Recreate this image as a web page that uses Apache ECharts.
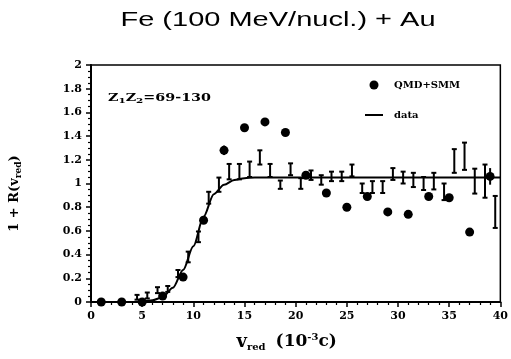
<!DOCTYPE html>
<html>
<head>
<meta charset="utf-8">
<script src="https://cdn.jsdelivr.net/npm/echarts@6/dist/echarts.min.js"></script>
<style>
html, body { margin: 0; padding: 0; background: #fff; }
#main { width: 511px; height: 359px; }
</style>
</head>
<body>
<div id="main"></div>
<script>
// QMD+SMM points (filled circles)
var qmdX = [1, 3, 5, 7, 9, 11, 13, 15, 17, 19, 21, 23, 25, 27, 29, 31, 33, 35, 37, 39];
var qmdY = [0, 0, 0, 0.05, 0.21, 0.69, 1.28, 1.47, 1.52, 1.43, 1.07, 0.92, 0.80, 0.89, 0.76, 0.74, 0.89, 0.88, 0.59, 1.06];
var qmdErr = [0, 0, 0, 0, 0, 0, 0.04, 0, 0, 0, 0, 0, 0, 0, 0, 0, 0, 0, 0.03, 0.07];

// measured points with error bars
var dataX = [4.5, 5.5, 6.5, 7.5, 8.5, 9.5, 10.5, 11.5, 12.5, 13.5, 14.5, 15.5, 16.5, 17.5, 18.5, 19.5,
             20.5, 21.5, 22.5, 23.5, 24.5, 25.5, 26.5, 27.5, 28.5, 29.5, 30.5, 31.5, 32.5, 33.5, 34.5,
             35.5, 36.5, 37.5, 38.5, 39.5];
var dataY = [0.04, 0.055, 0.10, 0.11, 0.24, 0.38, 0.55, 0.88, 0.99, 1.10, 1.10, 1.12, 1.22, 1.11, 0.99, 1.12,
             1.00, 1.07, 1.03, 1.06, 1.06, 1.11, 0.96, 0.97, 0.97, 1.08, 1.05, 1.03, 1.00, 1.02, 0.93,
             1.19, 1.23, 1.02, 1.02, 0.76];
var dataErr = [0.02, 0.025, 0.025, 0.025, 0.03, 0.045, 0.045, 0.05, 0.06, 0.065, 0.065, 0.065, 0.06, 0.055, 0.035, 0.05,
               0.045, 0.04, 0.04, 0.04, 0.04, 0.05, 0.04, 0.05, 0.05, 0.05, 0.05, 0.06, 0.055, 0.07, 0.07,
               0.10, 0.115, 0.105, 0.14, 0.135];

// solid curve
var curveX = [0, 2, 4, 5, 6, 7, 8, 9, 10, 11, 12, 13, 14, 15, 16, 20, 25, 30, 35, 40];
var curveY = [0, 0, 0, 0.005, 0.015, 0.04, 0.12, 0.27, 0.47, 0.72, 0.91, 0.99, 1.03, 1.045, 1.05, 1.05, 1.05, 1.05, 1.05, 1.05];

var tickFont = 'DejaVu Serif';

function zip3(xs, ys, es) {
  var out = [];
  for (var i = 0; i < xs.length; i++) out.push([xs[i], ys[i], es ? es[i] : 0]);
  return out;
}

function errorBar(capHalf) {
  return function (params, api) {
    var x = api.value(0), y = api.value(1), e = api.value(2);
    if (!e) return null;
    var hi = api.coord([x, y + e]);
    var lo = api.coord([x, y - e]);
    var st = { stroke: '#000', lineWidth: 2 };
    var kids = [{ type: 'line', shape: { x1: hi[0], y1: hi[1], x2: lo[0], y2: lo[1] }, style: st }];
    if (capHalf) {
      kids.push({ type: 'line', shape: { x1: hi[0] - capHalf, y1: hi[1], x2: hi[0] + capHalf, y2: hi[1] }, style: st });
      kids.push({ type: 'line', shape: { x1: lo[0] - capHalf, y1: lo[1], x2: lo[0] + capHalf, y2: lo[1] }, style: st });
    }
    return { type: 'group', children: kids };
  };
}

var myChart = echarts.init(document.getElementById('main'));

var option = {
  animation: false,
  backgroundColor: '#fff',
  grid: { left: 88, right: 4, top: 65, bottom: 57, show: true, borderColor: '#000', borderWidth: 1.5, backgroundColor: 'transparent' },
  graphic: [
    {
      type: 'text', x: 278, y: 20, scaleX: 1.45,
      style: { text: 'Fe (100 MeV/nucl.) + Au', fontFamily: 'Liberation Sans', fontSize: 20,
               fill: '#000', align: 'center', verticalAlign: 'middle' }
    },
    {
      type: 'text', x: 108, y: 98, scaleX: 1.3,
      style: {
        text: 'Z{s|1}Z{s|2}=69-130', fontFamily: tickFont, fontWeight: 'bold', fontSize: 11,
        fill: '#000', align: 'left', verticalAlign: 'middle',
        rich: { s: { fontFamily: tickFont, fontWeight: 'bold', fontSize: 8, padding: [6, 0, 0, 0] } }
      }
    }
  ],
  legend: {
    orient: 'vertical', left: 360, top: 75, itemWidth: 18, itemHeight: 9, itemGap: 20,
    data: [
      { name: 'QMD+SMM', icon: 'circle' },
      { name: 'data', icon: 'path://M0,0 L18,0 L18,2 L0,2 Z' }
    ],
    textStyle: { fontFamily: tickFont, fontWeight: 'bold', fontSize: 10, color: '#000', padding: [0, 0, 0, 6] }
  },
  xAxis: {
    type: 'value', min: 0, max: 40, interval: 5,
    name: '{v|v}{sub|red}   {n|(10}{sup|-3}{n|c)}',
    nameLocation: 'middle', nameGap: 30,
    nameTextStyle: {
      padding: [0, 18, 0, 0],
      rich: {
        v: { fontFamily: tickFont, fontWeight: 'bold', fontSize: 18, color: '#000' },
        sub: { fontFamily: tickFont, fontWeight: 'bold', fontSize: 10, color: '#000', padding: [10, 0, 0, 0] },
        n: { fontFamily: tickFont, fontWeight: 'bold', fontSize: 17, color: '#000' },
        sup: { fontFamily: tickFont, fontWeight: 'bold', fontSize: 10, color: '#000', padding: [0, 0, 10, 0] }
      }
    },
    axisLine: { onZero: false, lineStyle: { color: '#000', width: 2 } },
    axisTick: { show: true, inside: false, length: 5, lineStyle: { color: '#000', width: 1.5 } },
    minorTick: { show: true, splitNumber: 5, length: 3, lineStyle: { color: '#000', width: 1.2 } },
    axisLabel: { margin: 9, color: '#000', fontFamily: tickFont, fontWeight: 'bold', fontSize: 11 },
    splitLine: { show: false }
  },
  yAxis: {
    type: 'value', min: 0, max: 2, interval: 0.2,
    name: '1 + R(v{sub|red})',
    nameLocation: 'middle', nameGap: 68, nameRotate: 90,
    nameTextStyle: {
      fontFamily: tickFont, fontWeight: 'bold', fontSize: 13, color: '#000', padding: [0, 20, 0, 0],
      rich: { sub: { fontFamily: tickFont, fontWeight: 'bold', fontSize: 9, color: '#000', padding: [8, 0, 0, 0] } }
    },
    axisLine: { show: true, onZero: false, lineStyle: { color: '#000', width: 2 } },
    axisTick: { show: true, inside: false, length: 5, lineStyle: { color: '#000', width: 1.5 } },
    minorTick: { show: true, splitNumber: 4, length: 3, lineStyle: { color: '#000', width: 1.2 } },
    axisLabel: { margin: 9, color: '#000', fontFamily: tickFont, fontWeight: 'bold', fontSize: 11 },
    splitLine: { show: false }
  },
  series: [
    {
      name: 'data', type: 'line', smooth: 0.3, smoothMonotone: 'x', showSymbol: false, symbol: 'none',
      lineStyle: { color: '#000', width: 2 }, itemStyle: { color: '#000' },
      data: zip3(curveX, curveY).map(function (d) { return [d[0], d[1]]; }),
      z: 2
    },
    {
      name: 'QMD+SMM', type: 'scatter', symbol: 'circle', symbolSize: 9,
      itemStyle: { color: '#000', opacity: 1 },
      data: zip3(qmdX, qmdY).map(function (d) { return [d[0], d[1]]; }),
      z: 4
    },
    {
      name: 'dataErr', type: 'custom', renderItem: errorBar(2.5),
      encode: { x: 0, y: 1 }, data: zip3(dataX, dataY, dataErr), z: 3
    },
    {
      name: 'qmdErr', type: 'custom', renderItem: errorBar(0),
      encode: { x: 0, y: 1 }, data: zip3(qmdX, qmdY, qmdErr), z: 3
    }
  ]
};
myChart.setOption(option);
</script>
</body>
</html>
